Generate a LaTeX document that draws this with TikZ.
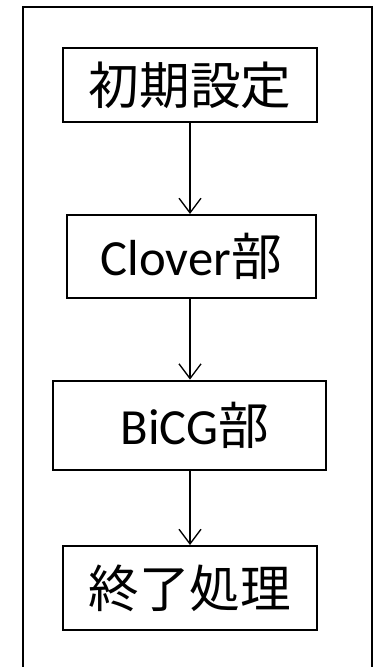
\documentclass[tikz,border=0pt]{standalone}
\usepackage{fontspec}
\setmainfont{Carlito}
\newfontfamily\cjk{Noto Sans CJK JP}
\usetikzlibrary{arrows.meta}
\tikzset{
  stepbox/.style={draw, line width=1.5pt, inner sep=0pt, font=\fontsize{38}{40}\selectfont},
  flow/.style={line width=1pt, -{Straight Barb[length=11pt, width=16.5pt, line width=1pt]}}
}
\begin{document}
\begin{tikzpicture}[x=0.75pt, y=-0.75pt]
  \useasboundingbox (0,0) rectangle (376,667);
  \clip (0,0) rectangle (376,667);
  \draw[line width=1.5pt] (22.7,700) -- (22.7,6.7) -- (371.7,6.7) -- (371.7,700);
  \node[stepbox, minimum width=190pt, minimum height=56pt] (b1) at (190,85) {\cjk 初期設定};
  \node[stepbox, minimum width=187pt, minimum height=62pt] (b2) at (191.3,256.3) {Clover{\cjk 部}};
  \node[stepbox, minimum width=205pt, minimum height=67pt] (b3) at (189.3,425.3) {\hspace*{0.22em}BiCG{\cjk 部}};
  \node[stepbox, minimum width=190.5pt, minimum height=63pt] (b4) at (189.7,588) {\cjk 終了処理};
  \draw[flow] (b1.south) -- (b1.south |- b2.north);
  \draw[flow] (b1.south |- b2.south) -- (b1.south |- b3.north);
  \draw[flow] (b1.south |- b3.south) -- (b1.south |- b4.north);
\end{tikzpicture}
\end{document}
